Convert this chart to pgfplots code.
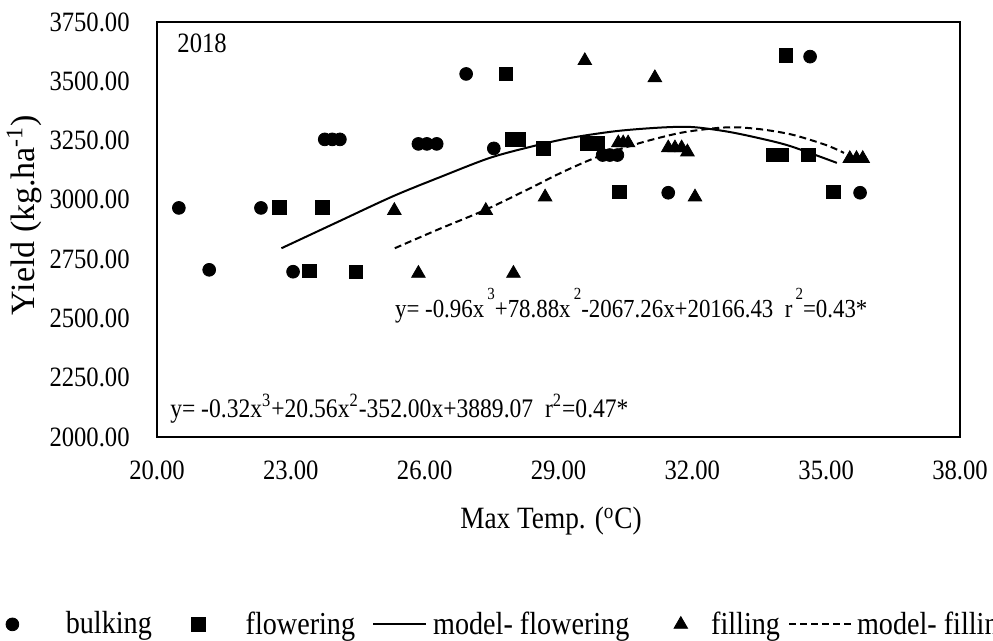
\documentclass[border=0pt]{standalone}
\usepackage{fontspec}
\setmainfont{Liberation Serif}[FakeStretch=0.88]
\newfontfamily\ylabfont{Liberation Serif}
\usepackage{pgfplots}
\pgfplotsset{compat=1.18}
\newcommand\hsup[1]{\hspace{0.12em}\raisebox{0.72em}{\fontsize{8.5bp}{10bp}\selectfont #1}}
\pgfplotsset{
  legmark/.style 2 args={legend image code/.code={\path (-#1,0pt) (#2,0pt); \draw[##1] plot coordinates {(0pt,0pt)};}},
  legsolid/.style={legend image code/.code={\path (0bp,0bp) (34bp,0bp); \draw[##1] (4.5bp,0bp) -- (31bp,0bp);}},
  legdash/.style={legend image code/.code={\path (0bp,0bp) (33.5bp,0bp); \draw[##1] (0bp,0bp) -- (31bp,0bp);}},
}
\begin{document}
\begin{tikzpicture}
\begin{axis}[
  name=ax,
  scale only axis,
  width=401.5bp, height=207.5bp,
  xmin=20, xmax=38, ymin=2000, ymax=3750,
  xtick={20,23,...,38}, ytick={2000,2250,...,3750},
  major tick length=0pt,
  axis line style={line width=1bp, black},
  /pgf/number format/fixed,
  /pgf/number format/fixed zerofill,
  /pgf/number format/precision=2,
  /pgf/number format/1000 sep={},
  /pgf/number format/assume math mode=true,
  tick label style={font=\fontsize{14bp}{16bp}\selectfont, inner sep=0pt},
  yticklabel style={anchor=east, xshift=-13.5bp},
  xticklabel style={anchor=north, yshift=-11.8bp},
  xlabel={Max Temp. (\textsuperscript{o}C)},
  xlabel style={font=\fontsize{15.5bp}{18bp}\selectfont, at={(axis description cs:0.4907,-0.2024)}, anchor=center, inner sep=0pt},
  ylabel={Yield (kg.ha\textsuperscript{-1})},
  ylabel style={font=\ylabfont\fontsize{17bp}{20bp}\selectfont, at={(axis description cs:-0.165,0.535)}, anchor=center, inner sep=0pt},
  legend columns=5,
  legend style={draw=none, fill=none, inner sep=0pt, outer sep=0pt,
    at={(axis description cs:-0.1955,-0.4515)}, anchor=west,
    font=\fontsize{16bp}{18bp}\selectfont, nodes={inner sep=0pt},
    /tikz/every even column/.append style={column sep=4bp}},
]
\addplot[only marks, mark=*, mark size=3.2bp, black, mark options={fill=black, line width=0.4bp}, legmark={6bp}{26.5bp}] coordinates {
(20.49,2966) (21.17,2705) (22.33,2966) (23.05,2697) (23.76,3255) (23.93,3255) (24.10,3255)
(25.86,3236) (26.05,3236) (26.27,3236) (26.93,3531) (27.55,3217) (29.99,3189) (30.15,3189)
(30.32,3189) (31.46,3030) (34.64,3604) (35.76,3030)};
\addlegendentry{bulking}
\addplot[only marks, mark=square*, mark size=3.4bp, black, mark options={fill=black, line width=0.4bp}, legmark={19bp}{23.5bp}] coordinates {
(22.74,2969) (23.42,2701) (23.71,2969) (24.46,2697) (27.82,3531) (27.97,3255) (28.10,3255)
(28.66,3217) (29.64,3239) (29.87,3239) (30.37,3034) (33.82,3190) (34.01,3190) (34.10,3608)
(34.60,3190) (35.16,3034)};
\addlegendentry{flowering}
\addplot[black, line width=1bp, smooth, no markers, legsolid] coordinates {
(22.79,2796) (24.03,2905) (25.30,3016) (26.40,3100) (27.46,3177) (28.40,3225) (29.26,3261)
(30.30,3290) (31.30,3305) (32.00,3307) (32.78,3288) (33.50,3260) (34.19,3227) (35.24,3156)};
\addlegendentry{model- flowering}
\addplot[only marks, mark=triangle*, mark size=3.9bp, black, mark options={fill=black, line width=0.4bp}, legmark={21.5bp}{15bp}] coordinates {
(25.32,2955) (25.86,2690) (27.37,2955) (27.99,2690) (28.70,3012) (29.59,3587) (30.34,3240)
(30.45,3240) (30.56,3240) (31.16,3515) (31.46,3219) (31.61,3219) (31.76,3219) (31.89,3202)
(32.06,3012) (35.53,3174) (35.68,3174) (35.82,3174)};
\addlegendentry{filling}
\addplot[black, line width=1bp, dash pattern=on 3.5bp off 2bp, smooth, no markers, legdash] coordinates {
(25.33,2796) (26.30,2875) (27.35,2957) (28.30,3043) (29.10,3118) (29.90,3183) (30.83,3240)
(31.72,3282) (32.50,3302) (33.00,3306) (33.60,3296) (34.26,3274) (35.00,3231) (35.40,3198)};
\addlegendentry{model- filling}
\node[anchor=west, inner sep=0pt, font=\fontsize{14bp}{16bp}\selectfont] at (rel axis cs:0.025,0.949) {2018};
\node[anchor=base west, inner sep=0pt, font=\fontsize{13bp}{16bp}\selectfont] at (rel axis cs:0.296,0.287)
  {y= -0.96x\hsup{3}+78.88x\hsup{2}-2067.26x+20166.43~~r\hsup{2}=0.43*};
\node[anchor=base west, inner sep=0pt, font=\fontsize{13.4bp}{16bp}\selectfont] at (rel axis cs:0.016,0.048)
  {y= -0.32x\textsuperscript{3}+20.56x\textsuperscript{2}-352.00x+3889.07~~r\textsuperscript{2}=0.47*};
\end{axis}
\pgfresetboundingbox
\path[use as bounding box] ([shift={(-78.5bp,-102bp)}]ax.south west) rectangle ([shift={(418bp,218.5bp)}]ax.south west);
\end{tikzpicture}
\end{document}
